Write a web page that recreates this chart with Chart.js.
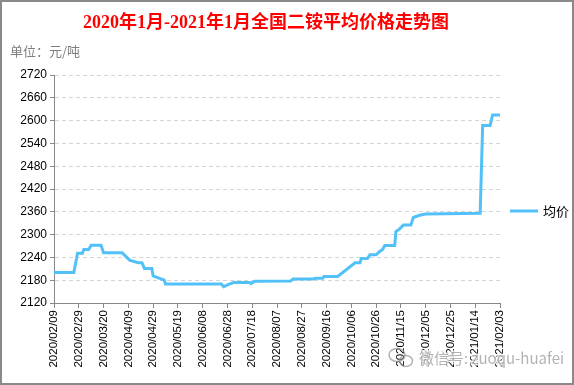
<!DOCTYPE html>
<html>
<head>
<meta charset="utf-8">
<script src="https://cdn.jsdelivr.net/npm/chart.js"></script>
<style>
  body { margin: 0; background: #fff; }
</style>
</head>
<body>
<canvas id="myChart" width="574" height="385"></canvas>
<script>
// x tick labels, one every 20 days starting 2020/02/09
const tickLabels = ['2020/02/09', '2020/02/29', '2020/03/20', '2020/04/09', '2020/04/29', '2020/05/19',
    '2020/06/08', '2020/06/28', '2020/07/18', '2020/08/07', '2020/08/27', '2020/09/16', '2020/10/06',
    '2020/10/26', '2020/11/15', '2020/12/05', '2020/12/25', '2021/01/14', '2021/02/03']

// days since 2020/02/09 and the average price (元/吨)
const days = [0, 16, 19, 23, 24, 28, 30, 38, 40, 55, 61, 68, 71, 73, 79, 80, 89, 90, 135, 137, 141, 145,
    158, 159, 162, 191, 193, 209, 211, 217, 218, 229, 243, 247, 248, 253, 255, 260, 263, 265, 267, 275,
    276, 279, 282, 288, 290, 295, 300, 344, 346, 352, 354, 360]
const prices = [2200, 2200, 2251, 2251, 2261, 2261, 2272, 2272, 2252, 2252, 2233, 2226, 2226, 2211, 2211,
    2191, 2180, 2170, 2170, 2163, 2169, 2174, 2174, 2171, 2177, 2178, 2183, 2183, 2185, 2185, 2190, 2190,
    2226, 2226, 2237, 2237, 2247, 2247, 2256, 2260, 2271, 2271, 2308, 2315, 2325, 2325, 2345, 2351, 2354,
    2356, 2587, 2587, 2615, 2615]

const seriesName = '均价'
const lineColor = '#52c1f8'

const points = days.map((d, i) => ({x: d, y: prices[i]}))

const decorations = {
    id: 'decorations',
    beforeDraw(chart) {
        const c = chart.ctx
        c.save()
        c.fillStyle = '#fff'
        c.fillRect(0, 0, chart.width, chart.height)
        c.restore()
    },
    afterDraw(chart) {
        const c = chart.ctx
        c.save()
        // outer frame
        c.strokeStyle = '#8a8a8a'
        c.lineWidth = 2
        c.strokeRect(1, 1, chart.width - 2, chart.height - 2)

        // title
        c.fillStyle = '#ff0000'
        c.font = 'bold 18px "Liberation Serif", "Noto Sans CJK SC"'
        c.textAlign = 'center'
        c.textBaseline = 'middle'
        c.fillText('2020年1月-2021年1月全国二铵平均价格走势图', 266, 23)

        // unit
        c.fillStyle = '#7f7f7f'
        c.font = '13px "Noto Sans CJK SC"'
        c.textAlign = 'left'
        c.fillText('单位：元/吨', 10, 51)

        // legend
        c.strokeStyle = lineColor
        c.lineWidth = 3
        c.beginPath()
        c.moveTo(510, 211)
        c.lineTo(538, 211)
        c.stroke()
        c.fillStyle = '#000'
        c.font = '13px "Noto Sans CJK SC"'
        c.fillText(seriesName, 543, 211)

        // watermark
        c.globalAlpha = 0.75
        c.strokeStyle = '#ffffff'
        c.lineWidth = 3
        c.font = '15px "Noto Sans CJK SC"'
        c.strokeText('微信号: zuoqu-huafei', 419, 358)
        c.fillStyle = '#9a9a9a'
        c.fillText('微信号: zuoqu-huafei', 419, 358)
        c.strokeStyle = '#9a9a9a'
        c.lineWidth = 1.5
        c.beginPath()
        c.ellipse(397, 355, 8, 6.5, 0, 0, Math.PI * 2)
        c.stroke()
        c.beginPath()
        c.ellipse(406, 361, 6.5, 5.5, 0, 0, Math.PI * 2)
        c.stroke()
        c.restore()
    }
}

const myChart = new Chart(document.getElementById('myChart'), {
    type: 'line',
    data: {
        datasets: [{
            label: seriesName,
            data: points,
            borderColor: lineColor,
            backgroundColor: lineColor,
            borderWidth: 3,
            pointRadius: 0,
            tension: 0,
            fill: false
        }]
    },
    options: {
        responsive: false,
        animation: false,
        devicePixelRatio: 1,
        layout: {padding: {left: 0, top: 75, right: 74, bottom: 10}},
        plugins: {
            legend: {display: false},
            title: {display: false},
            tooltip: {enabled: false}
        },
        scales: {
            x: {
                type: 'linear',
                min: 0,
                max: 360,
                afterFit: (scale) => { scale.height = 72 },
                afterBuildTicks: (scale) => {
                    scale.ticks = tickLabels.map((t, i) => ({value: i * 20}))
                },
                ticks: {
                    autoSkip: false,
                    maxRotation: 90,
                    minRotation: 90,
                    padding: 2,
                    color: '#000',
                    font: {family: 'Liberation Sans', size: 11.5},
                    callback: (v) => tickLabels[Math.round(v / 20)]
                },
                grid: {drawOnChartArea: false, tickLength: 5, tickColor: '#888', tickWidth: 1},
                border: {color: '#888', width: 1}
            },
            y: {
                min: 2120,
                max: 2720,
                afterFit: (scale) => { scale.width = 54 },
                ticks: {
                    stepSize: 60,
                    padding: 3,
                    color: '#000',
                    font: {family: 'Liberation Sans', size: 12},
                    callback: (v) => String(v)
                },
                grid: {color: '#d4d4d4', lineWidth: 1, tickLength: 4, tickColor: '#888'},
                border: {color: '#888', width: 1, dash: [4, 3]}
            }
        }
    },
    plugins: [decorations]
})
</script>
</body>
</html>
